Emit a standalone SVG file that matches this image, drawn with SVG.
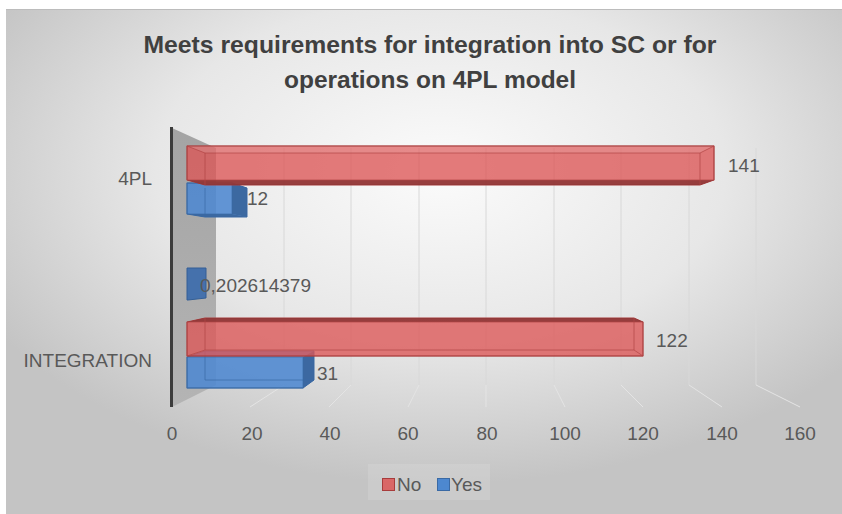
<svg xmlns="http://www.w3.org/2000/svg" width="842" height="514" viewBox="0 0 842 514">
<defs>
<radialGradient id="bg" cx="0.52" cy="0.32" r="0.62">
<stop offset="0" stop-color="#fbfbfb"/>
<stop offset="0.55" stop-color="#e7e7e7"/>
<stop offset="1" stop-color="#c4c4c4"/>
</radialGradient>
<linearGradient id="wall" x1="0" y1="0" x2="0" y2="1">
<stop offset="0" stop-color="#a4a4a4"/>
<stop offset="1" stop-color="#b4b4b4"/>
</linearGradient>
<style>
.grid{stroke:#d8d8d8;stroke-width:1;fill:none}
.floor{stroke:#e4e4e4;stroke-width:1;fill:none}
.lbl{font-family:"Liberation Sans",Arial,sans-serif;font-size:19px;fill:#595959}
.title{font-family:"Liberation Sans",Arial,sans-serif;font-size:24px;font-weight:bold;fill:#404040}
.redbody{fill:#dc5656;fill-opacity:0.78;stroke:#a83c3c;stroke-width:1}
.redface{fill:#8a3434;fill-opacity:0.85}
.rededge{stroke:#b24545;stroke-width:1;fill:none;stroke-opacity:0.7}
.bluebody{fill:#4d88d0;fill-opacity:0.88;stroke:#3a6aa5;stroke-width:1}
.blueface{fill:#3a669e;fill-opacity:0.95}
.blueedge{stroke:#3a6aa5;stroke-width:1;fill:none;stroke-opacity:0.7}
</style>
</defs>
<rect x="0" y="0" width="842" height="514" fill="#ffffff"/>
<rect x="6" y="9" width="836" height="505" fill="url(#bg)"/>
<line x1="6" y1="9.5" x2="842" y2="9.5" stroke="#bcbcbc" stroke-width="1"/>

<g id="title">
<text class="title" x="430" y="53" text-anchor="middle" textLength="573" lengthAdjust="spacingAndGlyphs">Meets requirements for integration into SC or for</text>
<text class="title" x="430" y="88" text-anchor="middle" textLength="292" lengthAdjust="spacingAndGlyphs">operations on 4PL model</text>
</g>

<g id="gridlines">
<line class="grid" x1="284" y1="148" x2="284" y2="385"/>
<line class="grid" x1="351" y1="148" x2="351" y2="385"/>
<line class="grid" x1="419" y1="148" x2="419" y2="385"/>
<line class="grid" x1="486" y1="148" x2="486" y2="385"/>
<line class="grid" x1="554" y1="148" x2="554" y2="385"/>
<line class="grid" x1="621" y1="148" x2="621" y2="385"/>
<line class="grid" x1="689" y1="148" x2="689" y2="385"/>
<line class="grid" x1="756" y1="148" x2="756" y2="385"/>
<polyline class="floor" points="284,385 250,407"/>
<polyline class="floor" points="351,385 329,407"/>
<polyline class="floor" points="419,385 408,407"/>
<polyline class="floor" points="486,385 486,407"/>
<polyline class="floor" points="554,385 565,407"/>
<polyline class="floor" points="621,385 643,407"/>
<polyline class="floor" points="689,385 722,407"/>
<polyline class="floor" points="756,385 800,407"/>
</g>

<g id="side-wall">
<polygon points="172,128 216,148 216,385 172,407" fill="url(#wall)"/>
<line x1="171.5" y1="127" x2="171.5" y2="407" stroke="#3c3c3c" stroke-width="3"/>
</g>

<g id="bar-4pl-yes">
<polygon class="bluebody" points="187,183 232,183 247,188 247,217 205,217 187,214"/>
<polygon class="blueface" points="232,183 247,188 247,217 232,214"/>
<polygon class="blueface" points="187,214 232,214 247,217 205,217" fill-opacity="0.6"/>
<rect class="blueedge" x="187" y="183" width="45" height="31"/>
<line class="blueedge" x1="205" y1="188" x2="205" y2="217"/>
</g>

<g id="bar-4pl-no">
<polygon class="redbody" points="187,146 714,146 714,180 700,185 205,185 187,180"/>
<polygon points="187,146 714,146 700,153 205,153" fill="#ffffff" fill-opacity="0.12"/>
<polygon class="redface" points="187,180 714,180 700,185 205,185"/>
<rect class="rededge" x="187" y="146" width="527" height="34"/>
<polyline class="rededge" points="187,146 205,153 700,153 714,146"/>
<line class="rededge" x1="205" y1="153" x2="205" y2="185"/>
<line class="rededge" x1="700" y1="153" x2="700" y2="185"/>
</g>

<g id="bar-mid-yes">
<polygon points="187,268 206,268 206,298 188,300 187,300" fill="#3f6eac" fill-opacity="0.95" stroke="#345f96" stroke-width="1"/>
</g>

<g id="bar-int-yes">
<polygon class="bluebody" points="187,357 205,351 314,351 314,380 303,388 187,388"/>
<polygon class="blueface" points="303,357 314,351 314,380 303,388"/>
<rect class="blueedge" x="187" y="357" width="116" height="31"/>
<line class="blueedge" x1="205" y1="351" x2="205" y2="380"/>
<line class="blueedge" x1="205" y1="380" x2="314" y2="380"/>
</g>

<g id="bar-int-no">
<polygon class="redbody" points="187,322 205,318 634,318 643,322 643,356 187,356"/>
<polygon class="redface" points="187,322 205,318 634,318 643,322" fill-opacity="0.7"/>
<rect class="rededge" x="187" y="322" width="456" height="34"/>
<polyline class="rededge" points="187,356 205,350 634,350 643,356"/>
<line class="rededge" x1="205" y1="318" x2="205" y2="350"/>
<line class="rededge" x1="634" y1="318" x2="634" y2="350"/>
</g>

<g id="data-labels">
<text class="lbl" x="728" y="172">141</text>
<text class="lbl" x="247" y="205">12</text>
<text class="lbl" x="200" y="292">0,202614379</text>
<text class="lbl" x="656" y="347">122</text>
<text class="lbl" x="317" y="380">31</text>
</g>

<g id="category-axis">
<text class="lbl" x="152" y="185" text-anchor="end">4PL</text>
<text class="lbl" x="152" y="367" text-anchor="end">INTEGRATION</text>
</g>

<g id="value-axis" text-anchor="middle">
<text class="lbl" x="172" y="440">0</text>
<text class="lbl" x="252" y="440">20</text>
<text class="lbl" x="330" y="440">40</text>
<text class="lbl" x="408" y="440">60</text>
<text class="lbl" x="487" y="440">80</text>
<text class="lbl" x="565" y="440">100</text>
<text class="lbl" x="643" y="440">120</text>
<text class="lbl" x="722" y="440">140</text>
<text class="lbl" x="800" y="440">160</text>
</g>

<g id="legend">
<rect x="368" y="464" width="122" height="36" fill="#ffffff" fill-opacity="0.12"/>
<rect x="382.5" y="478.5" width="12" height="12" fill="#dc5656" fill-opacity="0.85" stroke="#a83c3c" stroke-width="1"/>
<text class="lbl" x="397" y="491">No</text>
<rect x="437.5" y="478.5" width="12" height="12" fill="#4d88d0" stroke="#3a6aa5" stroke-width="1"/>
<text class="lbl" x="451" y="491">Yes</text>
</g>
</svg>
